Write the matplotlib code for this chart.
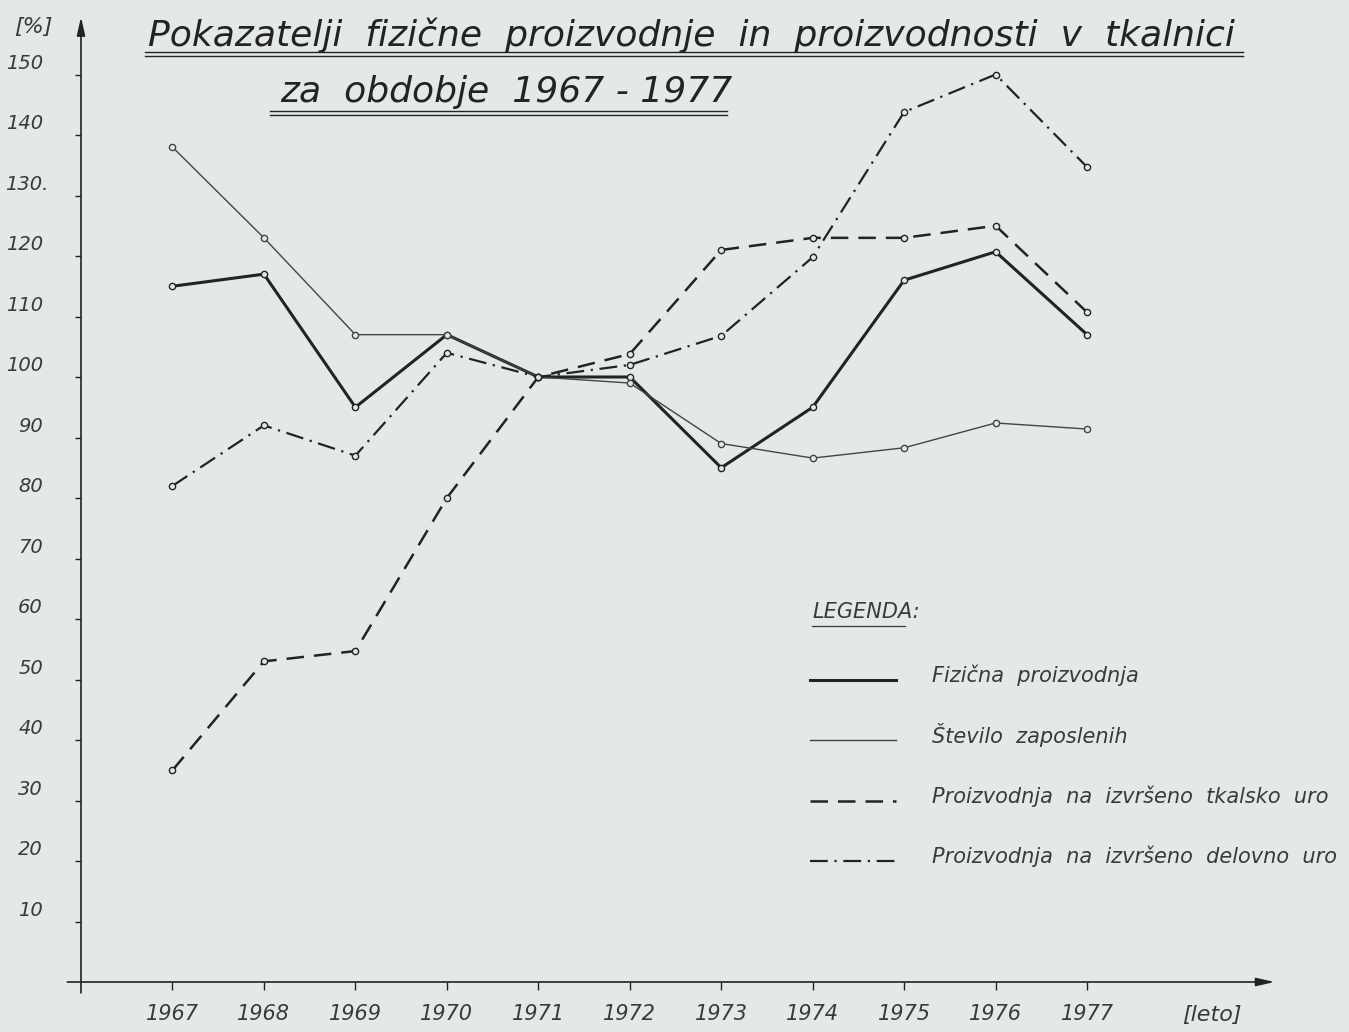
import matplotlib.pyplot as plt
from matplotlib.lines import Line2D
from matplotlib.transforms import blended_transform_factory

# data (index, 1971 = 100)
years = [1967, 1968, 1969, 1970, 1971, 1972, 1973, 1974, 1975, 1976, 1977]
fizicna = [115, 117, 95, 107, 100, 100, 85, 95, 116, 120.7, 107]
zaposleni = [138, 123, 107, 107, 100, 99, 89, 86.6, 88.3, 92.4, 91.4]
tkalsko = [35, 53, 54.7, 80, 100, 103.8, 121, 123, 123, 125, 110.7]
delovno = [82, 92, 87, 104, 100, 102, 106.8, 119.8, 143.8, 150, 134.7]

yticks = [10, 20, 30, 40, 50, 60, 70, 80, 90, 100, 110, 120, 130, 140, 150]
ytick_labels = ['10', '20', '30', '40', '50', '60', '70', '80', '90', '100',
                '110', '120', '130.', '140', '150']

series_names = ['Fizična  proizvodnja', 'Število  zaposlenih',
                'Proizvodnja  na  izvršeno  tkalsko  uro',
                'Proizvodnja  na  izvršeno  delovno  uro']

bg = '#e4e8e9'
ink = '#232323'
txt = '#3a3a3a'

plt.rcParams['font.family'] = ['DejaVu Sans']

W, H = 1349, 1032
fig = plt.figure(figsize=(W / 100, H / 100), dpi=100, facecolor=bg)
ax = fig.add_axes([62.7 / W, 1 - 994.1 / H, (1288.3 - 62.7) / W, (994.1 - 14) / H])
ax.set_facecolor(bg)
ax.set_xlim(1965.8, 1979.2)
ax.set_ylim(-2, 160)

styles = [
    dict(lw=2.2, ls='-', color=ink),
    dict(lw=1.0, ls='-', color='#444444'),
    dict(lw=1.8, ls=(0, (7, 4)), color=ink),
    dict(lw=1.6, ls=(0, (8, 3, 1, 3)), color=ink),
]
for vals, st in zip([fizicna, zaposleni, tkalsko, delovno], styles):
    ax.plot(years, vals, marker='o', ms=4.5, mfc=bg, mec=st['color'], mew=1.0, **st)

# axes drawn as arrows at x=1966 / y=0
for s in ax.spines.values():
    s.set_visible(False)
ax.spines['left'].set_position(('data', 1966))
ax.spines['bottom'].set_position(('data', 0))
ax.annotate('', xy=(1966, 159.5), xytext=(1966, -1.8),
            arrowprops=dict(arrowstyle='-|>,head_length=1.1,head_width=0.25', lw=1.2, color=ink,
                            shrinkA=0, shrinkB=0))
ax.annotate('', xy=(1979.05, 0), xytext=(1965.85, 0),
            arrowprops=dict(arrowstyle='-|>,head_length=1.1,head_width=0.25', lw=1.2, color=ink,
                            shrinkA=0, shrinkB=0))

# y ticks; labels sit a little above their tick, as in the hand-drawn original
ax.set_yticks(yticks)
ax.set_yticklabels([])
ax.tick_params(axis='y', direction='out', length=4, width=1, color=ink)
ylab_tr = blended_transform_factory(fig.transFigure, ax.transData)
for v, lab in zip(yticks, ytick_labels):
    xr = 48 if lab.endswith('.') else 43
    ax.text(xr / W, v + 0.3, lab, transform=ylab_tr, fontsize=14, style='italic', color=txt,
            ha='right', va='bottom')

ax.set_xticks(years)
ax.set_xticklabels([str(y) for y in years], fontsize=15, style='italic', color=txt)
ax.tick_params(axis='x', direction='out', length=6, width=1, color=ink, pad=10)

# unit labels
fig.text(33 / W, 1 - 27 / H, '[%]', fontsize=16, style='italic', color=txt, ha='center', va='center')
fig.text(1212 / W, 1 - 1015 / H, '[leto]', fontsize=16, style='italic', color=txt, ha='center', va='center')

# title with double underline
fig.text(148 / W, 1 - 35 / H, 'Pokazatelji  fizične  proizvodnje  in  proizvodnosti  v  tkalnici',
         fontsize=26, style='italic', color=ink, ha='left', va='center')
fig.text(280 / W, 1 - 92 / H, 'za  obdobje  1967 - 1977',
         fontsize=26, style='italic', color=ink, ha='left', va='center')
for (x0, x1, y0) in [(145, 1243, 52), (270, 727, 111)]:
    for dy in (0, 3.5):
        fig.add_artist(Line2D([x0 / W, x1 / W], [1 - (y0 + dy) / H] * 2,
                              transform=fig.transFigure, color=ink, lw=1.0))

# legend drawn by hand
fig.text(812 / W, 1 - 612 / H, 'LEGENDA:', fontsize=15, style='italic', color=txt, ha='left', va='center')
fig.add_artist(Line2D([812 / W, 905 / W], [1 - 626 / H] * 2, transform=fig.transFigure, color=txt, lw=0.9))
leg_y = [680, 740, 801, 861]
for name, st, yy in zip(series_names, styles, leg_y):
    fig.add_artist(Line2D([810 / W, 896 / W], [1 - yy / H] * 2, transform=fig.transFigure, **st))
    fig.text(932 / W, 1 - (yy - 5) / H, name, fontsize=15, style='italic', color=txt,
             ha='left', va='center')

fig.savefig('out.png', dpi=100, facecolor=bg)
